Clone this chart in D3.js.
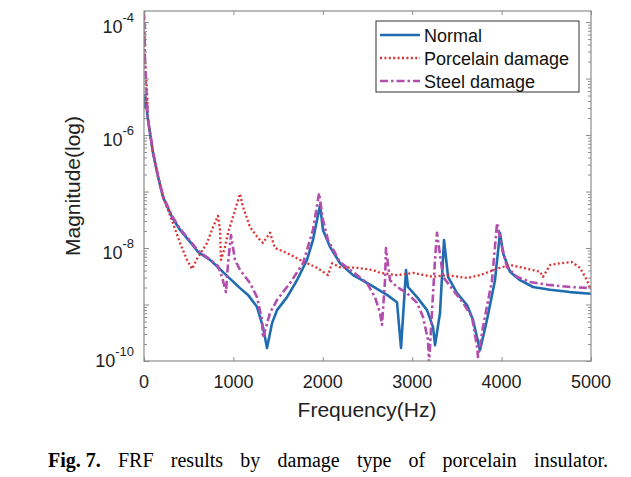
<!DOCTYPE html>
<html>
<head>
<meta charset="utf-8">
<script src="https://cdn.jsdelivr.net/npm/d3@7"></script>
<style>
  html, body { margin: 0; padding: 0; background: #fff; }
  svg { display: block; }
</style>
</head>
<body>
<svg id="chart" width="631" height="477"></svg>
<script>
// ---- Data (frequency in Hz, magnitude given as log10 value) ----
const normalFreq = [0, 11, 45, 101, 157, 213, 313, 403, 515, 604, 738, 828, 940, 1074, 1163, 1264, 1331, 1376,
  1432, 1488, 1600, 1711, 1823, 1890, 1969, 2002, 2081, 2193, 2338, 2528, 2718, 2830, 2875, 2931, 2953, 3054,
  3166, 3233, 3255, 3311, 3356, 3401, 3501, 3613, 3680, 3758, 3837, 3926, 3982, 4016, 4094, 4206, 4352, 4542, 4765, 5000];
const normalLog10 = [-5.52, -5.29, -5.73, -6.32, -6.74, -7.10, -7.45, -7.68, -7.89, -8.07, -8.21, -8.34, -8.51, -8.71, -8.83, -9.04, -9.40, -9.77,
  -9.33, -9.10, -8.87, -8.57, -8.21, -7.86, -7.24, -7.68, -7.98, -8.27, -8.48, -8.65, -8.83, -8.96, -9.77, -8.39, -8.69, -8.87,
  -9.10, -9.40, -9.72, -9.15, -7.86, -8.51, -8.80, -9.01, -9.27, -9.81, -9.27, -8.57, -7.73, -8.09, -8.42, -8.57, -8.69, -8.74, -8.78, -8.81];

const porcelainFreq = [0, 11, 33, 45, 101, 157, 213, 324, 403, 481, 537, 604, 705, 772, 828, 850, 861, 906, 940, 1018,
  1074, 1107, 1186, 1275, 1331, 1409, 1465, 1600, 1745, 1935, 2058, 2103, 2193, 2383, 2562, 2640, 2830, 3009, 3233,
  3389, 3613, 3758, 3982, 4094, 4240, 4430, 4463, 4542, 4653, 4788, 4877, 4955, 4989];
const porcelainLog10 = [-3.7, -4.67, -5.20, -5.73, -6.32, -6.74, -7.10, -7.56, -7.91, -8.21, -8.37, -8.16, -7.91, -7.63, -7.43, -7.68, -8.21, -7.98, -7.73, -7.33,
  -7.04, -7.27, -7.63, -7.82, -7.91, -7.73, -8.00, -8.09, -8.21, -8.35, -8.48, -8.27, -8.34, -8.35, -8.39, -8.44, -8.48, -8.44, -8.51,
  -8.48, -8.53, -8.48, -8.35, -8.30, -8.35, -8.42, -8.51, -8.30, -8.27, -8.25, -8.35, -8.57, -8.71];

const steelFreq = [0, 11, 28, 45, 101, 157, 213, 313, 403, 515, 604, 738, 828, 872, 917, 940, 973, 1018, 1074, 1186,
  1264, 1320, 1331, 1409, 1488, 1633, 1779, 1890, 1958, 2002, 2058, 2193, 2383, 2494, 2584, 2640, 2662, 2696, 2707,
  2752, 2830, 2942, 3054, 3121, 3177, 3188, 3255, 3277, 3345, 3456, 3568, 3669, 3725, 3736, 3792, 3893, 3949, 4005,
  4060, 4172, 4318, 4508, 4765, 5000];
const steelLog10 = [-3.7, -4.67, -5.26, -5.73, -6.30, -6.72, -7.08, -7.43, -7.66, -7.87, -8.05, -8.20, -8.32, -8.51, -8.78, -8.27, -7.77, -8.21, -8.39, -8.62,
  -8.87, -9.27, -9.59, -9.15, -8.92, -8.62, -8.27, -7.68, -7.03, -7.50, -7.86, -8.25, -8.48, -8.62, -8.87, -9.15, -9.36, -8.57, -8.00,
  -8.57, -8.69, -8.80, -8.97, -9.22, -9.63, -10.05, -8.21, -7.73, -8.51, -8.74, -8.97, -9.22, -9.75, -9.93, -9.40, -8.57, -7.56, -7.98,
  -8.34, -8.51, -8.60, -8.65, -8.69, -8.71];

const seriesNames = ["Normal", "Porcelain damage", "Steel damage"];
const xTicks = [0, 1000, 2000, 3000, 4000, 5000];
const yTickExponents = [-10, -8, -6, -4];
const xDomain = [0, 5000];
const yDomain = [1e-10, 1.57e-4];
const captionLabel = "Fig. 7.";
const captionText = "FRF results by damage type of porcelain insulator.";

// ---- Layout ----
const svg = d3.select("#chart");
const L = 144, R = 591, T = 11, B = 361;
const x = d3.scaleLinear().domain(xDomain).range([L, R]);
const y = d3.scaleLog().domain(yDomain).range([B, T]);

const styles = [
  { color: "#1f6db0", width: 2.6, dash: null },
  { color: "#de3232", width: 2.3, dash: "2,2.4" },
  { color: "#b24eac", width: 2.6, dash: "8,3,2.5,3" }
];

const axisColor = "#8c8c8c";
const fontSans = "'Liberation Sans', Arial, sans-serif";

svg.append("defs").append("clipPath").attr("id", "plotclip")
  .append("rect").attr("x", L).attr("y", T).attr("width", R - L).attr("height", B - T);

const xAxisB = d3.axisBottom(x).tickValues(xTicks).tickSize(-4).tickFormat("");
const xAxisT = d3.axisTop(x).tickValues(xTicks).tickSize(-4).tickFormat("");
const majorY = d3.range(-10, -3).map(e => Math.pow(10, e)).filter(v => v <= yDomain[1]);
const minorY = [];
d3.range(-10, -3).forEach(e => { for (let k = 2; k <= 9; k++) { const v = k * Math.pow(10, e); if (v <= yDomain[1]) minorY.push(v); } });

function drawAxisGroups() {
  const gB = svg.append("g").attr("transform", `translate(0,${B})`).call(xAxisB);
  const gT = svg.append("g").attr("transform", `translate(0,${T})`).call(xAxisT);
  const gL = svg.append("g").attr("transform", `translate(${L},0)`).call(d3.axisLeft(y).tickValues(majorY).tickSize(-5).tickFormat(""));
  const gL2 = svg.append("g").attr("transform", `translate(${L},0)`).call(d3.axisLeft(y).tickValues(minorY).tickSize(-3).tickFormat(""));
  const gR = svg.append("g").attr("transform", `translate(${R},0)`).call(d3.axisRight(y).tickValues(majorY).tickSize(-5).tickFormat(""));
  const gR2 = svg.append("g").attr("transform", `translate(${R},0)`).call(d3.axisRight(y).tickValues(minorY).tickSize(-3).tickFormat(""));
  [gB, gT, gL, gL2, gR, gR2].forEach(g => {
    g.select(".domain").remove();
    g.selectAll("line").attr("stroke", axisColor).attr("stroke-width", 1);
  });
}

const lineGen = d3.line().x(d => x(d[0])).y(d => y(Math.pow(10, d[1])));
const datasets = [
  d3.zip(normalFreq, normalLog10),
  d3.zip(porcelainFreq, porcelainLog10),
  d3.zip(steelFreq, steelLog10)
];
const gLines = svg.append("g").attr("clip-path", "url(#plotclip)");
datasets.forEach((ds, i) => {
  gLines.append("path").datum(ds)
    .attr("d", lineGen)
    .attr("fill", "none")
    .attr("stroke", styles[i].color)
    .attr("stroke-width", styles[i].width)
    .attr("stroke-linejoin", "round")
    .attr("stroke-dasharray", styles[i].dash);
});

drawAxisGroups();

svg.append("rect").attr("x", L).attr("y", T).attr("width", R - L).attr("height", B - T)
  .attr("fill", "none").attr("stroke", axisColor).attr("stroke-width", 1.2);

svg.append("g").selectAll("text").data(xTicks).join("text")
  .attr("x", d => x(d)).attr("y", 388)
  .attr("text-anchor", "middle")
  .attr("font-family", fontSans).attr("font-size", 18).attr("fill", "#222")
  .text(d => d);

yTickExponents.forEach((e) => {
  const ty = y(Math.pow(10, e));
  const off = (e === yTickExponents[0]) ? 6 : 11;
  const t = svg.append("text")
    .attr("x", 134).attr("y", ty + off)
    .attr("text-anchor", "end")
    .attr("font-family", fontSans).attr("font-size", 18).attr("fill", "#222");
  t.append("tspan").text("10");
  t.append("tspan").attr("dy", -11).attr("font-size", 13).text(String(e));
});

svg.append("text").attr("x", 367).attr("y", 417)
  .attr("text-anchor", "middle").attr("font-family", fontSans).attr("font-size", 21).attr("fill", "#222")
  .text("Frequency(Hz)");
svg.append("text").attr("transform", "translate(80,186) rotate(-90)")
  .attr("text-anchor", "middle").attr("font-family", fontSans).attr("font-size", 21).attr("fill", "#222")
  .text("Magnitude(log)");

const lg = svg.append("g");
lg.append("rect").attr("x", 376).attr("y", 21).attr("width", 203).attr("height", 71)
  .attr("fill", "#fff").attr("stroke", "#333").attr("stroke-width", 1);
seriesNames.forEach((name, i) => {
  const ly = 35 + i * 23;
  lg.append("line").attr("x1", 380).attr("x2", 420).attr("y1", ly).attr("y2", ly)
    .attr("stroke", styles[i].color).attr("stroke-width", styles[i].width)
    .attr("stroke-dasharray", styles[i].dash);
  lg.append("text").attr("x", 424).attr("y", ly + 6.5)
    .attr("font-family", fontSans).attr("font-size", 18).attr("fill", "#111")
    .text(name);
});

// Caption: bold label then justified words up to x=608
const capFont = "'Liberation Serif', 'Times New Roman', serif";
const capY = 467;
const lab = svg.append("text").attr("x", 48).attr("y", capY)
  .attr("font-family", capFont).attr("font-size", 20).attr("font-weight", "bold").attr("fill", "#000")
  .text(captionLabel);
const labEnd = 48 + lab.node().getComputedTextLength();
const words = captionText.split(" ");
const wNodes = words.map(w => svg.append("text").attr("y", capY)
  .attr("font-family", capFont).attr("font-size", 20).attr("fill", "#000").text(w));
const widths = wNodes.map(n => n.node().getComputedTextLength());
const gap = (608 - labEnd - d3.sum(widths)) / words.length;
let cx = labEnd + gap;
wNodes.forEach((n, i) => { n.attr("x", cx); cx += widths[i] + gap; });
</script>
</body>
</html>
